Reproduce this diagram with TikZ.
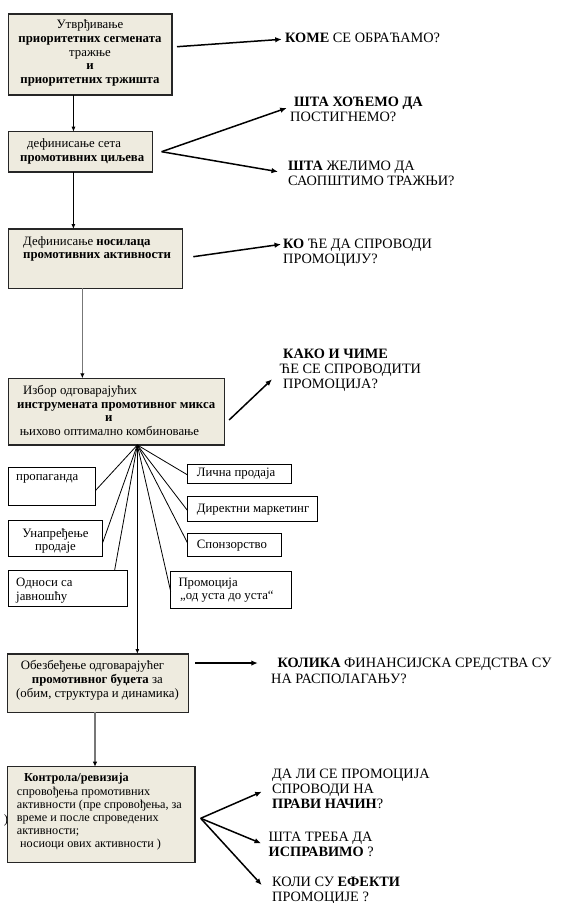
\documentclass[tikz,border=0pt]{standalone}
\usepackage{fontspec}
\setmainfont{Liberation Serif}
\usetikzlibrary{calc,arrows.meta}
\definecolor{boxfill}{HTML}{EEEBDF}
\definecolor{linegray}{HTML}{777777}
\begin{document}
\begin{tikzpicture}[x=1pt,y=-1pt,
  mainbox/.style={draw=black!85,line width=1.2pt,fill=boxfill,anchor=north west,inner sep=0pt,outer sep=0pt},
  instbox/.style={draw=black,line width=0.9pt,fill=white,anchor=north west,inner sep=0pt,outer sep=0pt},
  boxtext/.style={inner sep=0pt,align=left,font=\fontsize{12.8}{13.8}\selectfont},
  qtext/.style={inner sep=0pt,align=left,anchor=north west,font=\fontsize{14.3}{15.3}\selectfont},
  qarrow/.style={line width=1.5pt,-{Latex[length=6.5pt,width=5.5pt]}},
  downarrow/.style={line width=0.8pt,-{Latex[length=5pt,width=4pt]}},
  grayarrow/.style={draw=linegray,line width=1.6pt,-{Latex[length=5pt,width=4.5pt,color=black]}},
  fanline/.style={line width=0.8pt}
]
\useasboundingbox[fill=white] (0,0) rectangle (562,903);

% main boxes
\node[mainbox,minimum width=163.4pt,minimum height=81pt] (b1) at (8.6,14) {};
\node[mainbox,minimum width=144pt,minimum height=40.3pt] (b2) at (8.6,131.7) {};
\node[mainbox,minimum width=174pt,minimum height=59.3pt] (b3) at (8.6,229) {};
\node[mainbox,minimum width=216pt,minimum height=66.7pt] (b4) at (8.6,378.3) {};
\node[mainbox,minimum width=180.8pt,minimum height=58.3pt] (b5) at (7.5,654) {};
\node[boxtext] (stray) at (6,820) {)};
\node[mainbox,minimum width=187.5pt,minimum height=96pt] (b6) at (7.5,766.7) {};

% instrument boxes
\node[instbox,minimum width=87.3pt,minimum height=38.4pt] (i1) at (8,467.3) {};
\node[instbox,minimum width=94.7pt,minimum height=35.3pt] (i2) at (8,520.7) {};
\node[instbox,minimum width=119.7pt,minimum height=36pt] (i3) at (8,570.7) {};
\node[instbox,minimum width=104pt,minimum height=19.3pt] (i4) at (187.7,464) {};
\node[instbox,minimum width=129.6pt,minimum height=24.3pt] (i5) at (187.7,496.7) {};
\node[instbox,minimum width=93.3pt,minimum height=22.7pt] (i6) at (187.7,533.3) {};
\node[instbox,minimum width=120.3pt,minimum height=37.3pt] (i7) at (170.7,571) {};

% box texts
\node[boxtext,align=center] (t1) at (90,53) {Утврђивање\\\textbf{приоритетних сегмената}\\тражње\\\textbf{и}\\\textbf{приоритетних тржишта}};
\node[boxtext,anchor=west] (t2) at (20,151.5) {\hspace*{7pt}дефинисање сета\\\textbf{промотивних циљева}};
\node[boxtext,anchor=west] (t3) at (23,249) {Дефинисање \textbf{носилаца}\\\textbf{промотивних активности}};
\node[boxtext,anchor=west] (t4) at (17,410.5) {\hspace*{6pt}Избор одговарајућих\\\textbf{инструмената промотивног микса}\\\hspace*{88pt}\textbf{и}\\\hspace*{2.7pt}њихово оптимално комбиновање};
\node[boxtext,anchor=west] (t5) at (16,680.5) {\hspace*{4.7pt}Обезбеђење одговарајућег\\\hspace*{15.7pt}\textbf{промотивног буџета} за\\(обим, структура и динамика)};
\node[boxtext,anchor=west,font=\fontsize{12.2}{13.2}\selectfont] (t6) at (16.7,812) {\hspace*{7.3pt}\textbf{Контрола/ревизија}\\спровођења промотивних\\активности (пре спровођења, за\\време и после спроведених\\активности;\\\hspace*{3.3pt}носиоци ових активности )};

\node[boxtext,anchor=north west] (ti1) at (16,474) {пропаганда};
\node[boxtext,align=center] (ti2) at (55.5,541) {Унапређење\\продаје};
\node[boxtext,anchor=north west] (ti3) at (16,578) {Односи са\\јавношћу};
\node[boxtext,anchor=north west] (ti4) at (196.7,468) {Лична продаја};
\node[boxtext,anchor=north west] (ti5) at (196.7,503.7) {Директни маркетинг};
\node[boxtext,anchor=north west] (ti6) at (196.7,540) {Спонзорство};
\node[boxtext,anchor=north west] (ti7) at (178.3,577.4) {Промоција\\\hspace*{1.7pt}„од уста до уста“};

% question texts
\node[qtext] (q1) at (285,32.7) {\textbf{КОМЕ} СЕ ОБРАЋАМО?};
\node[qtext] (q2) at (290,96.4) {\hspace*{4pt}\textbf{ШТА ХОЋЕМО ДА}\\ПОСТИГНЕМО?};
\node[qtext] (q3) at (288,160.4) {\textbf{ШТА} ЖЕЛИМО ДА\\САОПШТИМО ТРАЖЊИ?};
\node[qtext] (q4) at (283,238.4) {\textbf{КО} ЋЕ ДА СПРОВОДИ\\ПРОМОЦИЈУ?};
\node[qtext] (q5) at (279.5,348.7) {\hspace*{3.5pt}\textbf{КАКО И ЧИМЕ}\\ЋЕ СЕ СПРОВОДИТИ\\\hspace*{3.5pt}ПРОМОЦИЈА?};
\node[qtext] (q6) at (271,658.1) {\hspace*{6.5pt}\textbf{КОЛИКА} ФИНАНСИЈСКА СРЕДСТВА СУ\\НА РАСПОЛАГАЊУ?};
\node[qtext] (q7) at (272,768.7) {ДА ЛИ СЕ ПРОМОЦИЈА\\СПРОВОДИ НА\\\textbf{ПРАВИ НАЧИН}?};
\node[qtext] (q8) at (268.5,832) {ШТА ТРЕБА ДА\\\textbf{ИСПРАВИМО} ?};
\node[qtext] (q9) at (272,876.5) {КОЛИ СУ \textbf{ЕФЕКТИ}\\ПРОМОЦИЈЕ ?};

% vertical flow
\coordinate (s12) at ($(b1.south west)!0.397!(b1.south east)$);
\draw[downarrow] (s12) -- (s12 |- b2.north);
\coordinate (s23) at ($(b2.south west)!0.45!(b2.south east)$);
\draw[downarrow] (s23) -- (s23 |- b3.north);
\coordinate (s34) at ($(b3.south west)!0.424!(b3.south east)$);
\draw[grayarrow] (s34) -- (s34 |- b4.north);
\coordinate (s56) at ($(b5.south west)!0.484!(b5.south east)$);
\draw[grayarrow] (s56) -- (s56 |- b6.north);

% fan of instruments
\coordinate (F) at ($(b4.south west)!0.596!(b4.south east)$);
\draw[fanline] (F) -- ($(i1.north east)!0.61!(i1.south east)$);
\draw[fanline] (F) -- ($(i2.north east)!0.62!(i2.south east)$);
\draw[fanline] (F) -- ($(i3.north west)!0.89!(i3.north east)$);
\draw[fanline] (F) -- ($(i4.north west)!0.57!(i4.south west)$);
\draw[fanline] (F) -- ($(i5.north west)!0.58!(i5.south west)$);
\draw[fanline] (F) -- ($(i6.north west)!0.44!(i6.south west)$);
\draw[fanline] (F) -- ($(i7.north west)!0.55!(i7.south west)$);
\draw[downarrow,line width=1pt] (F) -- (F |- b5.north);

% question arrows
\draw[qarrow] ($(b1.north east)+(5,32.7)$) -- ($(q1.north west)+(-3.3,6.6)$);
\draw[qarrow] ($(b2.north east)+(9,20)$) -- ($(q2.north west)+(-3.3,11.6)$);
\draw[qarrow] ($(b2.north east)+(9,20)$) -- ($(q3.north west)+(-10,11.3)$);
\draw[qarrow] ($(b3.north east)+(10.7,27.7)$) -- ($(q4.north west)+(-2,5.9)$);
\draw[qarrow] ($(b4.north east)+(4.5,41.7)$) -- ($(q5.north west)+(-7.5,30.6)$);
\draw[qarrow] ($(b5.north east)+(6.7,9)$) -- ($(q6.north west)+(-13.2,4.9)$);
\draw[qarrow] ($(b6.north east)+(5.7,51.6)$) -- ($(q7.north west)+(-10.3,23)$);
\draw[qarrow] ($(b6.north east)+(5.7,51.6)$) -- ($(q8.north west)+(-7.5,11.3)$);
\draw[qarrow] ($(b6.north east)+(5.7,51.6)$) -- ($(q9.north west)+(-10.3,8.5)$);
\end{tikzpicture}
\end{document}
